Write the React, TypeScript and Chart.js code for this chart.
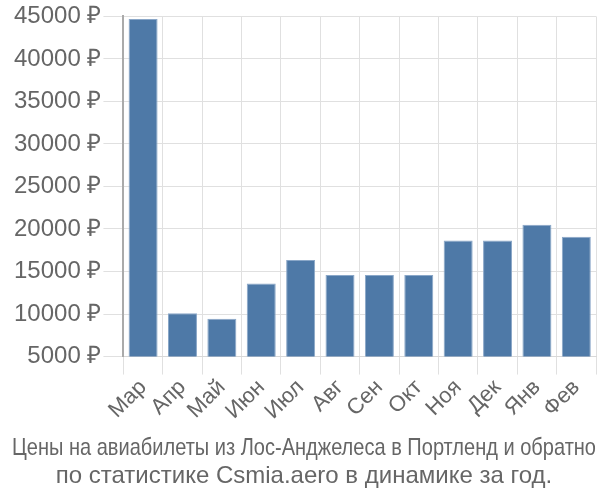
import React, { useEffect, useRef } from "react";
import { Chart, registerables } from "chart.js";

Chart.register(...registerables);

const categories = ["Мар", "Апр", "Май", "Июн", "Июл", "Авг", "Сен", "Окт", "Ноя", "Дек", "Янв", "Фев"];
const prices = [44700, 10100, 9450, 13600, 16350, 14600, 14600, 14600, 18650, 18650, 20500, 19100];
const titleLines = [
  "Цены на авиабилеты из Лос-Анджелеса в Портленд и обратно",
  "по статистике Csmia.aero в динамике за год.",
];

const FONT = "'Liberation Sans', Arial, sans-serif";

export default function App() {
  const ref = useRef<HTMLCanvasElement | null>(null);
  useEffect(() => {
    if (!ref.current) return;
    const chart = new Chart(ref.current, {
      type: "bar",
      data: {
        labels: categories,
        datasets: [
          {
            data: prices,
            backgroundColor: "#4e79a7",
            borderColor: "#8aa7c8",
            borderWidth: 1,
            barPercentage: 0.92,
            categoryPercentage: 0.8,
          },
        ],
      },
      options: {
        animation: false,
        responsive: false,
        maintainAspectRatio: false,
        layout: { padding: { left: 12, right: 4, top: 6, bottom: 0 } },
        plugins: {
          legend: { display: false },
          tooltip: { enabled: false },
          title: {
            display: true,
            position: "bottom",
            text: titleLines,
            color: "#666",
            font: { family: FONT, size: 24, weight: "normal", lineHeight: 1.15 },
            padding: { top: 10, bottom: 10 },
          },
        },
        scales: {
          x: {
            grid: { color: "#e0e0e0", tickLength: 18, offset: true },
            border: { color: "#d8d8d8" },
            ticks: {
              color: "#666",
              font: { family: FONT, size: 22 },
              maxRotation: 45,
              minRotation: 45,
              autoSkip: false,
              padding: 0,
            },
          },
          y: {
            min: 5000,
            max: 45000,
            grid: { color: "#e0e0e0", tickLength: 20 },
            border: { color: "#aaa", width: 2 },
            ticks: {
              stepSize: 5000,
              color: "#666",
              font: { family: FONT, size: 24 },
              padding: 2,
              callback: (v: any) => v + " ₽",
            },
          },
        },
      },
    });
    return () => chart.destroy();
  }, []);
  return (
    <div style={{ position: "absolute", left: 0, top: 0, width: 600, height: 500 }}>
      <canvas ref={ref} width={600} height={500} style={{ width: 600, height: 500 }} />
    </div>
  );
}
